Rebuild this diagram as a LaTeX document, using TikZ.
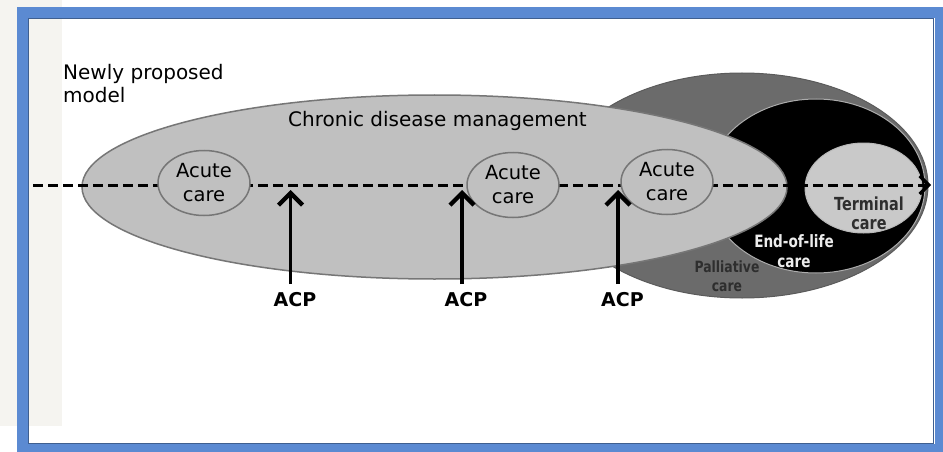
\documentclass[tikz,border=0pt]{standalone}
\usepackage{fontspec}
\setmainfont{DejaVu Sans}
\newfontfamily\narrowsans[FakeStretch=0.8]{DejaVu Sans}
\usetikzlibrary{arrows.meta,shapes.geometric}

\definecolor{frameblue}{HTML}{5B8AD2}
\definecolor{frameshade}{HTML}{3F5F90}
\definecolor{panelgrey}{HTML}{F5F4F0}
\definecolor{chronicfill}{HTML}{C0C0C0}
\definecolor{ringline}{HTML}{767676}
\definecolor{palliativefill}{HTML}{6B6B6B}
\definecolor{terminalfill}{HTML}{C9C9C9}
\definecolor{darktext}{HTML}{2E2E2E}

\begin{document}
\begin{tikzpicture}[x=1pt,y=-1pt,
  zone/.style={ellipse, inner sep=0pt},
  acute/.style={ellipse, draw=ringline, line width=1.5pt, fill=chronicfill,
    minimum width=92pt, minimum height=65pt, inner sep=0pt, align=center,
    font=\fontsize{19.5}{24}\selectfont},
  timeline/.style={line width=3pt, dash pattern=on 10pt off 5pt,
    -{Straight Barb[length=9pt,width=18pt,line width=0pt 1.1]}},
  acplabel/.style={font=\fontsize{19}{22}\selectfont\bfseries, inner sep=2pt},
  acparrow/.style={line width=3.5pt, shorten <=6pt,
    -{Straight Barb[length=12pt,width=24pt,line width=0pt 1.25]}},
  smalllabel/.style={align=center, inner sep=0pt}
]
\useasboundingbox (0,0) rectangle (943,452);
\fill[white] (0,0) rectangle (943,452);
\fill[panelgrey] (0,0) rectangle (62,426);

% window frame
\draw[frameblue, line width=11pt] (22.5,12.5) rectangle (940,449);
\draw[frameshade, line width=1.5pt] (28.5,18.5) rectangle (933.5,443.5);

% nested care zones
\node[zone, fill=palliativefill, draw=palliativefill!85!black, line width=1pt,
  minimum width=372pt, minimum height=225pt] (palliative) at (742,185.5) {};
\node[zone, fill=black, draw=gray!65, line width=1pt,
  minimum width=218pt, minimum height=174pt] (eol) at (816,186) {};
\node[zone, fill=chronicfill, draw=ringline, line width=1.5pt,
  minimum width=705pt, minimum height=184pt] (chronic) at (434.5,187) {};
\node[zone, fill=terminalfill, draw=gray!55, line width=1pt,
  minimum width=117pt, minimum height=90pt] (terminal) at (863.5,188) {};

% zone labels
\node[anchor=base, font=\fontsize{20}{24}\selectfont] (chroniclabel)
  at (437.5,126) {Chronic disease management};
\node[smalllabel, text=darktext, font=\narrowsans\fontsize{15.5}{19.5}\selectfont\bfseries]
  (palliativelabel) at (727,276) {Palliative\\care};
\node[smalllabel, text=gray!15, font=\narrowsans\fontsize{17}{19.5}\selectfont\bfseries]
  (eollabel) at (794,251) {End-of-life\\care};
\node[smalllabel, text=darktext, font=\narrowsans\fontsize{18}{19}\selectfont\bfseries]
  (terminallabel) at (869,213) {Terminal\\care};

% time line
\coordinate (timeline start) at (33,185);
\coordinate (timeline end) at (931,185);
\draw[timeline] (timeline start) -- (timeline end);

% acute care episodes
\node[acute] (acute1) at (204,183) {Acute\\care};
\node[acute] (acute2) at (513,185) {Acute\\care};
\node[acute] (acute3) at (667,182) {Acute\\care};

% heading
\node[anchor=north west, inner sep=0pt, align=left,
  font=\fontsize{20}{23}\selectfont] (heading) at (63,64) {Newly proposed\\model};

% advance care planning points
\coordinate (tip1) at (290.5,190);
\coordinate (tip2) at (462,190);
\coordinate (tip3) at (618,190);
\node[acplabel] (acp1) at (295,299.5) {ACP};
\node[acplabel] (acp2) at (466,299.5) {ACP};
\node[acplabel] (acp3) at (622.5,299.5) {ACP};
\draw[acparrow] (acp1.north -| tip1) -- (tip1);
\draw[acparrow] (acp2.north -| tip2) -- (tip2);
\draw[acparrow] (acp3.north -| tip3) -- (tip3);
\end{tikzpicture}
\end{document}
